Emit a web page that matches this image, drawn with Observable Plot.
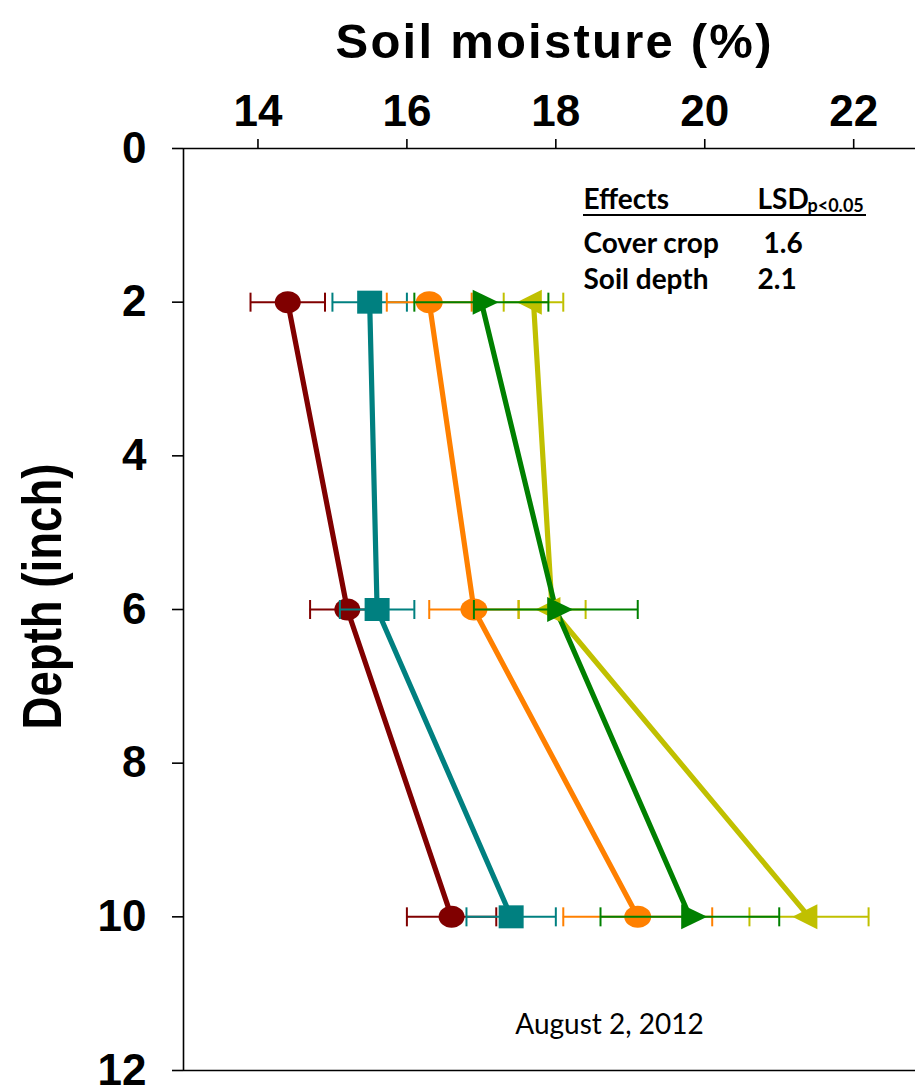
<!DOCTYPE html>
<html><head><meta charset="utf-8">
<script src="https://cdn.jsdelivr.net/npm/d3@7"></script>
<script src="https://cdn.jsdelivr.net/npm/@observablehq/plot@0.6"></script>
<style>body{margin:0;background:#fff}</style>
</head><body><div id="chart"></div>
<script>
// ---- data ----
const depths = [2, 6, 10];
const xTicks = [14, 16, 18, 20, 22];
const yTicks = [0, 2, 4, 6, 8, 10, 12];

const darkredMeans = [14.4, 15.2, 16.6];
const darkredErr   = [0.5, 0.5, 0.6];
const tealMeans    = [15.5, 15.6, 17.4];
const tealErr      = [0.5, 0.5, 0.6];
const orangeMeans  = [16.3, 16.9, 19.1];
const orangeErr    = [0.57, 0.6, 1.0];
const yellowMeans  = [17.7, 17.95, 21.4];
const yellowErr    = [0.4, 0.45, 0.8];
const greenMeans   = [17.0, 18.0, 19.8];
const greenErr     = [0.9, 1.1, 1.2];

const titleText = "Soil moisture (%)";
const yLabelText = "Depth (inch)";
const dateText = "August 2, 2012";
const effectsHeader = ["Effects", "LSD", "p<0.05"];
const effectsRows = ["Cover crop", "Soil depth"];
const effectsValues = ["1.6", "2.1"];

// ---- symbols ----
const K = 0.5523;
const ellipse = (rx, ry) => ({draw(c) {
  c.moveTo(rx, 0);
  c.bezierCurveTo(rx, ry*K, rx*K, ry, 0, ry);
  c.bezierCurveTo(-rx*K, ry, -rx, ry*K, -rx, 0);
  c.bezierCurveTo(-rx, -ry*K, -rx*K, -ry, 0, -ry);
  c.bezierCurveTo(rx*K, -ry, rx, -ry*K, rx, 0);
  c.closePath();
}});
const square = (w, h) => ({draw(c) {
  c.moveTo(-w/2, -h/2); c.lineTo(w/2, -h/2); c.lineTo(w/2, h/2); c.lineTo(-w/2, h/2); c.closePath();
}});
const triRight = (w, h) => ({draw(c) {
  const x0 = -w/3;
  c.moveTo(x0, -h/2); c.lineTo(x0 + w, 0); c.lineTo(x0, h/2); c.closePath();
}});
const triLeft = (w, h) => ({draw(c) {
  const x0 = w/3;
  c.moveTo(x0, -h/2); c.lineTo(x0 - w, 0); c.lineTo(x0, h/2); c.closePath();
}});
const capSym = (h) => ({draw(c) { c.moveTo(0, -h/2); c.lineTo(0, h/2); }});

const series = [
  {name: "darkred", color: "#800000", means: darkredMeans, err: darkredErr, symbol: ellipse(13, 11)},
  {name: "teal",    color: "#008080", means: tealMeans,    err: tealErr,    symbol: square(25, 23)},
  {name: "orange",  color: "#FF8000", means: orangeMeans,  err: orangeErr,  symbol: ellipse(13.5, 11)},
  {name: "yellow",  color: "#C0C000", means: yellowMeans,  err: yellowErr,  symbol: triLeft(25, 25)},
  {name: "green",   color: "#008000", means: greenMeans,   err: greenErr,   symbol: triRight(26, 25)}
];
const rowsOf = s => depths.map((d, i) => ({depth: d, mean: s.means[i], lo: s.means[i] - s.err[i], hi: s.means[i] + s.err[i]}));

const headFont = "'Liberation Sans', Arial, sans-serif";
const tickFont = "'Liberation Sans', Arial, sans-serif";
const calFont = "Lato, 'Open Sans', sans-serif";

const marks = [];
for (const s of series) {
  marks.push(Plot.line(rowsOf(s), {x: "mean", y: "depth", stroke: s.color, strokeWidth: 5.2}));
}
for (const s of series) {
  const rows = rowsOf(s);
  marks.push(Plot.ruleY(rows, {y: "depth", x1: "lo", x2: "hi", stroke: s.color, strokeWidth: 2}));
  marks.push(Plot.dot(rows, {x: "lo", y: "depth", symbol: capSym(19), r: 1, fill: "none", stroke: s.color, strokeWidth: 2}));
  marks.push(Plot.dot(rows, {x: "hi", y: "depth", symbol: capSym(19), r: 1, fill: "none", stroke: s.color, strokeWidth: 2}));
  marks.push(Plot.dot(rows, {x: "mean", y: "depth", symbol: s.symbol, r: 1, fill: s.color, stroke: "none"}));
}

const note = (t, dx, dy, size, weight) => Plot.text([t], {frameAnchor: "top-left", dx, dy, textAnchor: "start", lineAnchor: "bottom", fontSize: size, fontWeight: weight, fontFamily: calFont});

const chart = Plot.plot({
  width: 915,
  height: 1090,
  marginLeft: 183,
  marginRight: 0,
  marginTop: 148,
  marginBottom: 20,
  x: {domain: [13, 22.83], axis: null},
  y: {domain: [0, 12], reverse: true, axis: null},
  marks: [
    Plot.ruleY([0, 12], {stroke: "black", strokeWidth: 1.6}),
    Plot.ruleX([13], {stroke: "black", strokeWidth: 1.6}),
    Plot.axisX(xTicks, {anchor: "top", tickSize: 10, tickPadding: 13, tickFormat: d => String(d), fontSize: 44, fontWeight: "bold", fontFamily: tickFont, strokeWidth: 1.6, label: null}),
    Plot.axisY(yTicks, {anchor: "left", tickSize: 11, tickPadding: 26, tickFormat: d => String(d), fontSize: 44, fontWeight: "bold", fontFamily: tickFont, strokeWidth: 1.6, label: null}),
    Plot.text([titleText], {frameAnchor: "top", dx: 4, dy: -91, textAnchor: "middle", lineAnchor: "bottom", fontSize: 49, fontWeight: "bold", fontFamily: headFont}),
    Plot.text([yLabelText], {frameAnchor: "left", rotate: -90, dx: -123, dy: -13, textAnchor: "middle", lineAnchor: "bottom", fontSize: 56, fontWeight: "bold", fontFamily: headFont}),
    Plot.text([dateText], {frameAnchor: "top-left", dx: 426, dy: 885, textAnchor: "middle", lineAnchor: "bottom", fontSize: 28, fontFamily: calFont}),
    note(effectsHeader[0], 400, 60, 28, "bold"),
    note(effectsHeader[1], 574, 60, 28, "bold"),
    note(effectsHeader[2], 624, 63, 18, "bold"),
    note(effectsRows[0], 400, 104, 28, "bold"),
    note(effectsValues[0], 580, 104, 28, "bold"),
    note(effectsRows[1], 400, 140, 28, "bold"),
    note(effectsValues[1], 574, 140, 28, "bold"),
    ...marks
  ]
});
document.getElementById("chart").appendChild(chart);

// text fitting to mimic the narrow bold face of the original
const svg = d3.select(chart);
svg.selectAll("text").each(function() {
  const t = this.textContent;
  if (t === yLabelText) { d3.select(this).attr("textLength", 266).attr("lengthAdjust", "spacingAndGlyphs"); }
  if (t === titleText) { d3.select(this).attr("textLength", 436).attr("lengthAdjust", "spacing"); }
});
// underline of the LSD table header
svg.append("line")
  .attr("x1", 583).attr("x2", 866).attr("y1", 215).attr("y2", 215)
  .attr("stroke", "black").attr("stroke-width", 2);
</script>
</body></html>
